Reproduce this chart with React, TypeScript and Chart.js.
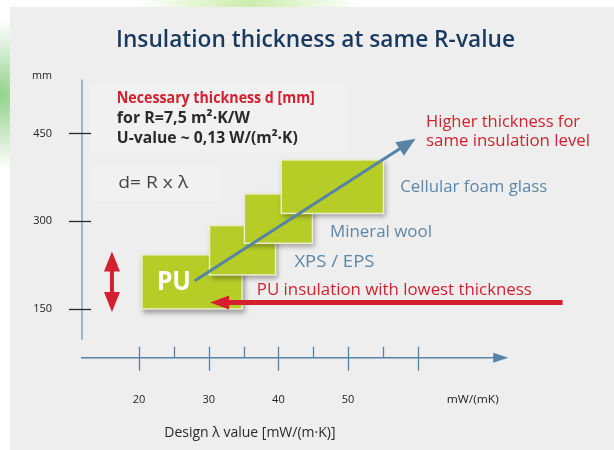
import React, { useEffect, useRef } from "react";
import { Chart, registerables } from "chart.js";

Chart.register(...registerables);

// ---------- data ----------
const xTickLabels = [20, 30, 40, 50];
const xMajorTicks = [20, 30, 40, 50, 60];
const xMinorTicks = [25, 35, 45, 55];
const yTickLabels = [150, 300, 450];

const materials = ["PU", "XPS / EPS", "Mineral wool", "Cellular foam glass"];
const lambdaFrom = [20.3, 30.0, 35.0, 40.3];
const lambdaTo = [34.9, 39.7, 45.0, 55.2];
const thicknessFrom = [149, 207, 261, 312];
const thicknessTo = [244, 294, 348, 406];
// label anchors (lambda, thickness) for materials 1..3 (left aligned), PU centered
const labelLambda = [25.0, 42.3, 47.4, 57.5];
const labelThickness = [195, 229, 281, 357];

// arrows (lambda, thickness)
const trendArrow = [[28.0, 198.4], [59.7, 441]];
const puArrow = [[80.8, 161.3], [30.2, 161.3]];
const rangeArrowLambda = 16.1;
const rangeArrowThickness = [145, 248.4];
const axisEndLambda = 73;
const yAxisBottom = 97.5;

const TITLE = "Insulation thickness at same R-value";
const infoLines = ["Necessary thickness d [mm]", "for R=7,5 m²·K/W", "U-value ~ 0,13 W/(m²·K)"];
const infoAnchor = [16.8, [509.8, 475.6, 440.9]] as const;
const formula = "d= R x λ";
const formulaAnchor = [17.0, 365];
const puNote = "PU insulation with lowest thickness";
const puNoteAnchor = [36.9, 181.8];
const trendNote = ["Higher thickness for", "same insulation level"];
const trendNoteAnchor = [61.2, [468.8, 436.3]] as const;
const yUnit = "mm";
const yUnitAnchor = 548.6;
const xUnit = "mW/(mK)";
const xUnitAnchor = 67.9;
const xTitle = "Design λ value [mW/(m·K)]";

const FONT = "'Open Sans', 'Noto Sans', sans-serif";
const RED = "#d31f2e";
const BLUE = "#5883a5";
const LABEL_BLUE = "#5d87a8";
const GREEN = "#b7cd27";

function fitText(
  ctx: CanvasRenderingContext2D,
  text: string,
  x: number,
  y: number,
  width: number,
  font: string,
  color: string,
  align: "left" | "center" | "right" = "left"
) {
  ctx.save();
  ctx.font = font;
  ctx.fillStyle = color;
  ctx.textBaseline = "middle";
  const w = ctx.measureText(text).width || 1;
  const s = width / w;
  ctx.translate(x, y);
  ctx.scale(s, 1);
  ctx.textAlign = align;
  ctx.fillText(text, 0, 0);
  ctx.restore();
}

function arrowHead(ctx: CanvasRenderingContext2D, fx: number, fy: number, tx: number, ty: number, len: number, half: number, color: string) {
  const a = Math.atan2(ty - fy, tx - fx);
  const bx = tx - Math.cos(a) * len;
  const by = ty - Math.sin(a) * len;
  ctx.beginPath();
  ctx.moveTo(tx, ty);
  ctx.lineTo(bx + Math.sin(a) * half, by - Math.cos(a) * half);
  ctx.lineTo(bx - Math.sin(a) * half, by + Math.cos(a) * half);
  ctx.closePath();
  ctx.fillStyle = color;
  ctx.fill();
  return [bx + Math.cos(a) * 2, by + Math.sin(a) * 2];
}

const infographic = {
  id: "infographic",
  beforeDraw(chart: any) {
    const { ctx, width, height } = chart;
    ctx.save();
    ctx.fillStyle = "#ffffff";
    ctx.fillRect(0, 0, width, height);
    let g = ctx.createRadialGradient(0, 95, 0, 0, 95, 75);
    g.addColorStop(0, "rgba(110,195,100,0.75)");
    g.addColorStop(1, "rgba(110,195,100,0)");
    ctx.fillStyle = g;
    ctx.fillRect(0, 0, width, height);
    g = ctx.createRadialGradient(250, 0, 0, 250, 0, 110);
    g.addColorStop(0, "rgba(190,232,150,0.8)");
    g.addColorStop(1, "rgba(190,232,150,0)");
    ctx.fillStyle = g;
    ctx.fillRect(0, 0, width, height);
    ctx.fillStyle = "#eeeeee";
    ctx.fillRect(10, 7, width - 10, height - 7);
    // soft boxes behind text
    ctx.fillStyle = "rgba(255,255,255,0.22)";
    ctx.fillRect(90, 84, 256, 68);
    ctx.fillRect(92, 165, 128, 36);
    // title
    fitText(ctx, TITLE, 116, 40, 399, `600 24px ${FONT}`, "#19395e");
    ctx.restore();
  },
  afterDatasetsDraw(chart: any) {
    const { ctx, scales } = chart;
    const xs = scales.x;
    const ys = scales.y;
    const px = (v: number) => xs.getPixelForValue(v);
    const py = (v: number) => ys.getPixelForValue(v);
    ctx.save();

    // y axis
    const yAxisX = chart.chartArea.left;
    ctx.strokeStyle = "#6b90b0";
    ctx.lineWidth = 1.2;
    ctx.beginPath();
    ctx.moveTo(yAxisX, py(ys.max));
    ctx.lineTo(yAxisX, py(yAxisBottom));
    ctx.stroke();
    ctx.strokeStyle = "#2a2a2a";
    ctx.lineWidth = 1.3;
    yTickLabels.forEach((v) => {
      const y = Math.round(py(v)) + 0.5;
      ctx.beginPath();
      ctx.moveTo(yAxisX - 13, y);
      ctx.lineTo(yAxisX + 9, y);
      ctx.stroke();
    });
    fitText(ctx, yUnit, yAxisX - 30, py(yUnitAnchor), 20, `11px ${FONT}`, "#222", "right");

    // x axis
    const xAxisY = chart.chartArea.bottom;
    ctx.strokeStyle = BLUE;
    ctx.lineWidth = 1.6;
    const tipX = px(axisEndLambda);
    ctx.beginPath();
    ctx.moveTo(px(xs.min) - 1, xAxisY);
    ctx.lineTo(tipX - 10, xAxisY);
    ctx.stroke();
    arrowHead(ctx, px(xs.min), xAxisY, tipX, xAxisY, 15, 5, BLUE);
    ctx.lineWidth = 1.3;
    xMajorTicks.forEach((v) => {
      const x = Math.round(px(v)) + 0.5;
      ctx.beginPath();
      ctx.moveTo(x, xAxisY - 11);
      ctx.lineTo(x, xAxisY + 13);
      ctx.stroke();
    });
    xMinorTicks.forEach((v) => {
      const x = Math.round(px(v)) + 0.5;
      ctx.beginPath();
      ctx.moveTo(x, xAxisY - 11);
      ctx.lineTo(x, xAxisY);
      ctx.stroke();
    });
    fitText(ctx, xUnit, px(xUnitAnchor), xAxisY + 42, 52, `11px ${FONT}`, "#222", "center");

    // info text
    const infoFonts = [`bold 16px ${FONT}`, `bold 16px ${FONT}`, `bold 16px ${FONT}`];
    const infoColors = [RED, "#2a2a2a", "#2a2a2a"];
    const infoWidths = [198, 133, 181];
    infoLines.forEach((t, i) => {
      fitText(ctx, t, px(infoAnchor[0]), py(infoAnchor[1][i]), infoWidths[i], infoFonts[i], infoColors[i]);
    });
    fitText(ctx, formula, px(formulaAnchor[0]), py(formulaAnchor[1]), 70, `16px ${FONT}`, "#444");

    // material blocks
    materials.forEach((m, i) => {
      const x0 = px(lambdaFrom[i]);
      const x1 = px(lambdaTo[i]);
      const y0 = py(thicknessTo[i]);
      const y1 = py(thicknessFrom[i]);
      ctx.save();
      ctx.shadowColor = "rgba(0,0,0,0.35)";
      ctx.shadowBlur = 5;
      ctx.shadowOffsetX = 2;
      ctx.shadowOffsetY = 3;
      ctx.fillStyle = "#e9efcf";
      ctx.fillRect(x0, y0, x1 - x0, y1 - y0);
      ctx.restore();
      ctx.fillStyle = GREEN;
      ctx.fillRect(x0 + 1.5, y0 + 1.5, x1 - x0 - 3, y1 - y0 - 3);
    });

    // PU label
    fitText(ctx, materials[0], px(labelLambda[0]), py(labelThickness[0]), 34, `bold 26px ${FONT}`, "#ffffff", "center");
    for (let i = 1; i < materials.length; i++) {
      const widths = [0, 80, 102, 147];
      fitText(ctx, materials[i], px(labelLambda[i]), py(labelThickness[i]), widths[i], `16px ${FONT}`, LABEL_BLUE);
    }

    // trend arrow
    {
      const fx = px(trendArrow[0][0]);
      const fy = py(trendArrow[0][1]);
      const tx = px(trendArrow[1][0]);
      const ty = py(trendArrow[1][1]);
      const [bx, by] = arrowHead(ctx, fx, fy, tx, ty, 19, 8, BLUE);
      ctx.strokeStyle = BLUE;
      ctx.lineWidth = 3;
      ctx.beginPath();
      ctx.moveTo(fx, fy);
      ctx.lineTo(bx, by);
      ctx.stroke();
    }
    // PU arrow
    {
      const fx = px(puArrow[0][0]);
      const fy = py(puArrow[0][1]);
      const tx = px(puArrow[1][0]);
      const ty = py(puArrow[1][1]);
      const [bx, by] = arrowHead(ctx, fx, fy, tx, ty, 19, 7, RED);
      ctx.strokeStyle = RED;
      ctx.lineWidth = 5;
      ctx.beginPath();
      ctx.moveTo(fx, fy);
      ctx.lineTo(bx, by);
      ctx.stroke();
    }
    // range double arrow
    {
      const x = px(rangeArrowLambda);
      const yb = py(rangeArrowThickness[0]);
      const yt = py(rangeArrowThickness[1]);
      const [, b1] = arrowHead(ctx, x, yb, x, yt, 20, 8, RED);
      const [, b2] = arrowHead(ctx, x, yt, x, yb, 20, 8, RED);
      ctx.strokeStyle = RED;
      ctx.lineWidth = 4;
      ctx.beginPath();
      ctx.moveTo(x, b1);
      ctx.lineTo(x, b2);
      ctx.stroke();
    }

    fitText(ctx, puNote, px(puNoteAnchor[0]), py(puNoteAnchor[1]), 275, `16px ${FONT}`, RED);
    const tw = [154, 164];
    trendNote.forEach((t, i) => {
      fitText(ctx, t, px(trendNoteAnchor[0]), py(trendNoteAnchor[1][i]), tw[i], `16px ${FONT}`, RED);
    });
    ctx.restore();
  },
};

export default function App() {
  const ref = useRef<HTMLCanvasElement | null>(null);
  useEffect(() => {
    if (!ref.current) return;
    Chart.defaults.font.family = FONT;
    const chart = new Chart(ref.current, {
      type: "scatter",
      data: { datasets: [{ data: [] }] },
      options: {
        responsive: false,
        animation: false,
        events: [],
        layout: { padding: { left: 0, right: 196.3, top: 79.5, bottom: 0 } },
        plugins: { legend: { display: false }, tooltip: { enabled: false }, title: { display: false } },
        scales: {
          x: {
            type: "linear",
            min: 11.8,
            max: 60,
            border: { display: false },
            grid: { display: false, drawTicks: false },
            afterBuildTicks: (s: any) => {
              s.ticks = xTickLabels.map((v) => ({ value: v }));
            },
            afterFit: (s: any) => {
              s.height = 92.3;
            },
            ticks: { padding: 36, color: "#222", font: { size: 11 }, maxRotation: 0, autoSkip: false },
            title: {
              display: true,
              text: xTitle,
              color: "#2a2a2a",
              font: { size: 14 },
              padding: { top: 0, bottom: 8.6 },
            },
          },
          y: {
            type: "linear",
            min: 67,
            max: 542,
            border: { display: false },
            grid: { display: false, drawTicks: false },
            afterBuildTicks: (s: any) => {
              s.ticks = yTickLabels.map((v) => ({ value: v }));
            },
            afterFit: (s: any) => {
              s.width = 82;
            },
            ticks: { padding: 30, color: "#222", font: { size: 11 }, autoSkip: false },
          },
        },
      },
      plugins: [infographic],
    });
    return () => chart.destroy();
  }, []);
  return (
    <div style={{ position: "fixed", left: 0, top: 0, width: 614, height: 450 }}>
      <canvas ref={ref} width={614} height={450} style={{ display: "block" }} />
    </div>
  );
}
